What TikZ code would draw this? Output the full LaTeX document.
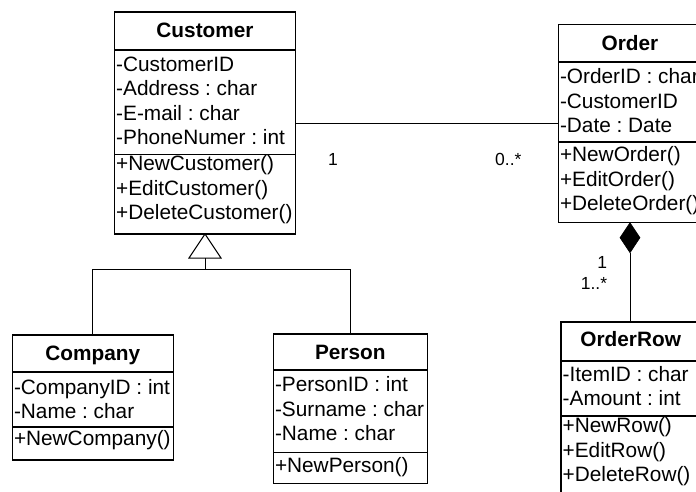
\documentclass[tikz,border=0pt]{standalone}
\usepackage{fontspec}
\setmainfont{Liberation Sans}
\usetikzlibrary{shapes.geometric}
% type sizes for the class boxes and the multiplicities
\newcommand\rowfont{\fontsize{20.8}{24.5}\selectfont}
\newcommand\classfont{\fontsize{20.8}{24.5}\selectfont\bfseries}
\newcommand\multfont{\fontsize{17.5}{20}\selectfont}
\frenchspacing
\begin{document}
\begin{tikzpicture}[x=1pt,y=-1pt,
  part/.style={draw, line width=1.6pt, anchor=north west, inner sep=0pt, outer sep=0pt},
  classname/.style={anchor=base, inner sep=0pt, font=\classfont},
  rows/.style={anchor=north west, inner sep=0pt, align=left, font=\rowfont},
  link/.style={line width=1pt},
  mult/.style={inner sep=0pt, font=\multfont}]

\useasboundingbox (0,0) rectangle (696,491);
\fill[white] (0,0) rectangle (696,491);
\clip (0,0) rectangle (696,491);

% ---------- Customer ----------
\node[part, minimum width=181, minimum height=38]    (cust-head) at (114.5,12) {};
\node[part, minimum width=181, minimum height=104.5] (cust-attr) at (cust-head.south west) {};
\node[part, minimum width=181, minimum height=79.5]  (cust-ops)  at (cust-attr.south west) {};
\node[classname] (cust-name) at (205,37.5) {Customer};
\node[rows] (cust-attr-txt) at (116,53.85)
  {\strut-CustomerID\\-Address : char\\-E-mail : char\\-PhoneNumer : int};
\node[rows] (cust-ops-txt) at (116,153.6)
  {\strut+NewCustomer()\\+EditCustomer()\\+DeleteCustomer()};

% ---------- Order ----------
\node[part, minimum width=143.4, minimum height=37.4] (ord-head) at (558.3,24.3) {};
\node[part, minimum width=143.4, minimum height=80.2] (ord-attr) at (ord-head.south west) {};
\node[part, minimum width=143.4, minimum height=80.4] (ord-ops)  at (ord-attr.south west) {};
\node[classname] (ord-name) at (630,50.3) {Order};
\node[rows] (ord-attr-txt) at (559.8,66.15)
  {\strut-OrderID : char\\-CustomerID\\-Date : Date};
\node[rows] (ord-ops-txt) at (559.8,144.55)
  {\strut+NewOrder()\\+EditOrder()\\+DeleteOrder()};

% ---------- OrderRow ----------
\node[part, minimum width=139.4, minimum height=39]   (row-head) at (561,321.7) {};
\node[part, minimum width=139.4, minimum height=55]   (row-attr) at (row-head.south west) {};
\node[part, minimum width=139.4, minimum height=89.3] (row-ops)  at (row-attr.south west) {};
\node[classname] (row-name) at (630.7,346.5) {OrderRow};
\node[rows] (row-attr-txt) at (562.5,363.85)
  {\strut-ItemID : char\\-Amount : int};
\node[rows] (row-ops-txt) at (562.5,415.3)
  {\strut+NewRow()\\+EditRow()\\+DeleteRow()};

% ---------- Company ----------
\node[part, minimum width=161, minimum height=36.7] (comp-head) at (12.3,335) {};
\node[part, minimum width=161, minimum height=55]   (comp-attr) at (comp-head.south west) {};
\node[part, minimum width=161, minimum height=33.3] (comp-ops)  at (comp-attr.south west) {};
\node[classname] (comp-name) at (92.8,360.6) {Company};
\node[rows] (comp-attr-txt) at (13.8,376.85)
  {\strut-CompanyID : int\\-Name : char};
\node[rows] (comp-ops-txt) at (13.8,427.85)
  {\strut+NewCompany()};

% ---------- Person ----------
\node[part, minimum width=154, minimum height=36]   (pers-head) at (273.3,334) {};
\node[part, minimum width=154, minimum height=82.3] (pers-attr) at (pers-head.south west) {};
\node[part, minimum width=154, minimum height=31]   (pers-ops)  at (pers-attr.south west) {};
\node[classname] (pers-name) at (350.3,359.3) {Person};
\node[rows] (pers-attr-txt) at (274.8,374.55)
  {\strut-PersonID : int\\-Surname : char\\-Name : char};
\node[rows] (pers-ops-txt) at (274.8,455.15)
  {\strut+NewPerson()};

% ---------- association Customer -- Order ----------
\coordinate (assoc-y) at (0,123.3);
\draw[link] (cust-attr.east |- assoc-y) -- (ord-attr.west |- assoc-y);
\node[mult, anchor=base west] (m-cust) at (328,165.7) {1};
\node[mult, anchor=base west] (m-ord)  at (495,165.7) {0..*};

% ---------- composition Order -- OrderRow ----------
\node[diamond, draw, fill=black, line width=0.8pt, inner sep=0pt,
      minimum width=20, minimum height=30, anchor=north] (compo) at (ord-ops.south) {};
\draw[link] (compo.south) -- (compo.south |- row-head.north);
\node[mult, anchor=base east] (m-whole) at (607.3,268.3) {1};
\node[mult, anchor=base east] (m-part)  at (607.3,289) {1..*};

% ---------- generalisation Company, Person -> Customer ----------
\coordinate (gen-tip) at (cust-ops.south);
\coordinate (gen-base) at (205,258);
\coordinate (gen-bus) at (205,269.3);
\draw[link, fill=white] (gen-tip) -- (189,258) -- (221,258) -- cycle;
\draw[link] (gen-base) -- (gen-bus);
\draw[link] (comp-head.north) |- (gen-bus) -| (pers-head.north);
\end{tikzpicture}
\end{document}
